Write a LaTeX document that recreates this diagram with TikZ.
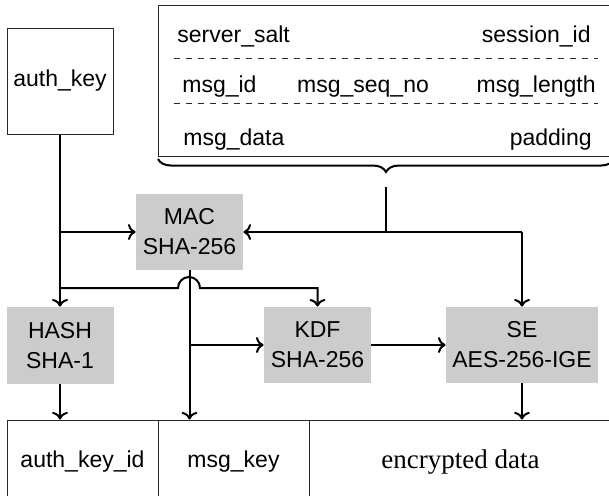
\documentclass[tikz,border=0pt]{standalone}
\usepackage{fontspec}
\setsansfont{Liberation Sans}
\newfontfamily\encfont{Liberation Serif}
\usepackage{xcolor}
\usetikzlibrary{positioning, arrows.meta, decorations.pathreplacing}
\definecolor{BoxGray}{RGB}{204,204,204}
\definecolor{LineGray}{RGB}{40,40,40}

\begin{document}
\begin{tikzpicture}[x=0.5pt, y=-0.5pt,
          every node/.style={font=\sffamily\fontsize{11.5}{15}\selectfont},
          blk/.style={rectangle, fill=BoxGray, minimum width=53.5pt,
                      minimum height=38pt, align=center, inner sep=0pt},
          cell/.style={rectangle, draw=LineGray, line width=0.5pt,
                       minimum height=42pt, inner sep=0pt},
          fld/.style={inner sep=0pt},
          arr/.style={->, line width=1pt},
          sep/.style={dashed, line width=0.5pt, draw=LineGray},
          brc/.style={decorate, decoration={brace, amplitude=6.5pt},
                      line width=1pt}
        ]
        \useasboundingbox (0,0) rectangle (609,495);
        \clip (0,0) rectangle (609,495);

        % inputs
        \node[cell, minimum width=53pt, minimum height=53pt]
              (authkey) at (60,81) {auth\_key};
        \node[cell, minimum width=228pt, minimum height=75.5pt]
              (msgbox) at (386,80.5) {};
        \node[fld, anchor=base west] (salt)    at (177,42)  {server\_salt};
        \node[fld, anchor=base east] (sessid)  at (591,42)  {session\_id};
        \node[fld, anchor=base west] (msgid)   at (182,92)  {msg\_id};
        \node[fld, anchor=base]      (seqno)   at (363,92)  {msg\_seq\_no};
        \node[fld, anchor=base east] (msglen)  at (596,92)  {msg\_length};
        \node[fld, anchor=base west] (msgdata) at (183,145) {msg\_data};
        \node[fld, anchor=base east] (padding) at (592,145) {padding};
        \draw[sep] (174,58)  -- (598,58);
        \draw[sep] (174,103) -- (598,103);
        \draw[brc] (614,159) -- (158,159);
        \coordinate (bracetip) at (386,187);

        % primitives
        \node[blk] (mac)  at (189.5,232) {MAC\\SHA-256};
        \node[blk, minimum height=38.5pt] (hash) at (60,345.5) {HASH\\SHA-1};
        \node[blk] (kdf)  at (317.5,345) {KDF\\SHA-256};
        \node[blk, minimum width=76pt] (se) at (522,345) {SE\\AES-256-IGE};

        % output
        \node[cell, minimum width=75.5pt] (akid)    at (82.5,462)  {auth\_key\_id};
        \node[cell, minimum width=75.5pt] (msgkey)  at (233.5,462) {msg\_key};
        \node[cell, minimum width=151.5pt, font=\encfont\fontsize{13.5}{16}\selectfont]
              (encdata) at (460.5,462) {encrypted data};

        \coordinate (hopl) at (authkey.south |- 0,288);
        \coordinate (j2)   at (se.north |- mac.east);

        \draw[arr] (authkey) -- (hash);
        \draw[arr] (authkey.south |- mac.west) -- (mac.west);
        \draw[arr] (hopl) -- (178,288) arc[start angle=180, end angle=360, radius=11]
                   -- (kdf.north |- hopl) -- (kdf.north);
        \draw[line width=1pt] (bracetip) -- (bracetip |- mac.east);
        \draw[arr] (j2) -- (mac.east);
        \draw[arr] (j2) -- (se.north);
        \draw[arr] (mac) -- (mac.south |- msgkey.north);
        \draw[arr] (mac.south |- kdf.west) -- (kdf.west);
        \draw[arr] (kdf) -- (se);
        \draw[arr] (hash) -- (hash.south |- akid.north);
        \draw[arr] (se) -- (se.south |- encdata.north);
      \end{tikzpicture}
\end{document}
